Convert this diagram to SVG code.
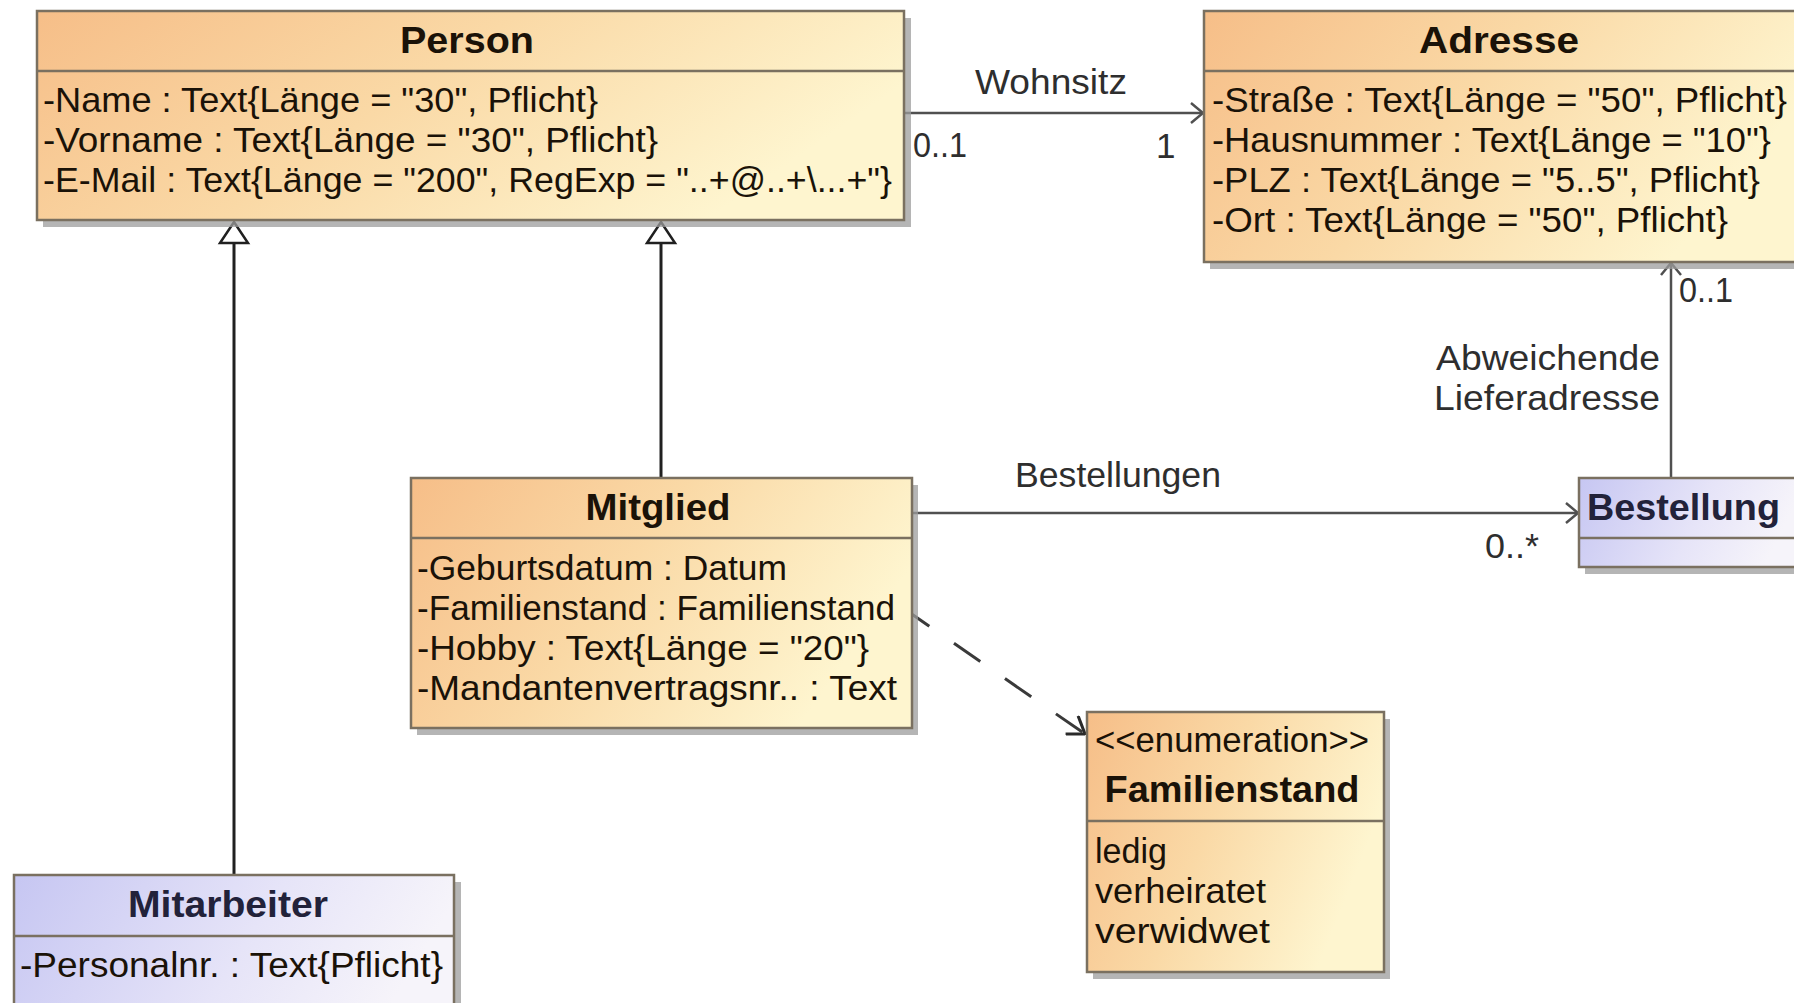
<svg xmlns="http://www.w3.org/2000/svg" width="1794" height="1003" viewBox="0 0 1794 1003">
<defs>
<linearGradient id="orange" x1="0" y1="0" x2="1" y2="0.35">
<stop offset="0" stop-color="#F6BE88"/>
<stop offset="0.5" stop-color="#FAD9A6"/>
<stop offset="1" stop-color="#FEF5CF"/>
</linearGradient>
<linearGradient id="lav" x1="0" y1="0" x2="1" y2="0.2">
<stop offset="0" stop-color="#C6C6F2"/>
<stop offset="0.6" stop-color="#E6E4F8"/>
<stop offset="1" stop-color="#F6F4FA"/>
</linearGradient>
<marker id="open" markerUnits="userSpaceOnUse" viewBox="0 0 14 22" markerWidth="14" markerHeight="22" refX="13" refY="11" orient="auto">
<path d="M1,1 L13,11 L1,21" fill="none" stroke="#505050" stroke-width="2.5"/>
</marker>
<marker id="openDark" markerUnits="userSpaceOnUse" viewBox="0 0 18 24" markerWidth="18" markerHeight="24" refX="17" refY="12" orient="auto">
<path d="M1,1 L17,12 L1,23" fill="none" stroke="#2a2a2a" stroke-width="3"/>
</marker>
</defs>
<style>
.box{stroke:#7A7060;stroke-width:2.5}
.shadow{fill:#9C9C9C;opacity:0.75}
.div{stroke:#7A7060;stroke-width:2.5}
.title{font-family:"Liberation Sans",Arial,sans-serif;font-weight:bold;font-size:36px;fill:#1A1208;text-anchor:middle}
.titleB{font-family:"Liberation Sans",Arial,sans-serif;font-weight:bold;font-size:36px;fill:#22223A}
.attr{font-family:"Liberation Sans",Arial,sans-serif;font-size:35px;fill:#1A1208}
.lbl{font-family:"Liberation Sans",Arial,sans-serif;font-size:35px;fill:#2E2E2E}
.conn{fill:none;stroke:#505050;stroke-width:2.5}
.gen{fill:none;stroke:#202020;stroke-width:3}
</style>
<rect width="1794" height="1003" fill="#FFFFFF"/>

<g id="connectors">
<line class="conn" x1="904" y1="113" x2="1203" y2="113" marker-end="url(#open)"/>
<line class="conn" x1="912" y1="513" x2="1578" y2="513" marker-end="url(#open)"/>
<line class="conn" x1="1671" y1="478" x2="1671" y2="263" marker-end="url(#open)"/>
<line class="gen" x1="234" y1="875" x2="234" y2="243"/>
<path d="M234,222 L248,243 L220,243 Z" fill="#FFFFFF" stroke="#202020" stroke-width="2.5"/>
<line class="gen" x1="661" y1="478" x2="661" y2="243"/>
<path d="M661,222 L675,243 L647,243 Z" fill="#FFFFFF" stroke="#202020" stroke-width="2.5"/>
<line x1="903" y1="608" x2="1085" y2="734" stroke="#3a3a3a" stroke-width="3" stroke-dasharray="32,30" marker-end="url(#openDark)"/>
<text class="lbl" x="975" y="94" textLength="152" lengthAdjust="spacingAndGlyphs">Wohnsitz</text>
<text class="lbl" x="913" y="157" textLength="54" lengthAdjust="spacingAndGlyphs">0..1</text>
<text class="lbl" x="1156" y="158">1</text>
<text class="lbl" x="1015" y="487" textLength="206" lengthAdjust="spacingAndGlyphs">Bestellungen</text>
<text class="lbl" x="1485" y="558" textLength="54" lengthAdjust="spacingAndGlyphs">0..*</text>
<text class="lbl" x="1679" y="302" textLength="54" lengthAdjust="spacingAndGlyphs">0..1</text>
<text class="lbl" x="1436" y="370" textLength="224" lengthAdjust="spacingAndGlyphs">Abweichende</text>
<text class="lbl" x="1434" y="410" textLength="226" lengthAdjust="spacingAndGlyphs">Lieferadresse</text>
</g>

<g id="person">
<rect class="shadow" x="43" y="18" width="868" height="209"/>
<rect class="box" x="37" y="11" width="867" height="209" fill="url(#orange)"/>
<line class="div" x1="37" y1="71" x2="904" y2="71"/>
<text class="title" x="467" y="53" textLength="134" lengthAdjust="spacingAndGlyphs">Person</text>
<text class="attr" x="43" y="112" textLength="555" lengthAdjust="spacingAndGlyphs">-Name : Text{Länge = "30", Pflicht}</text>
<text class="attr" x="43" y="152" textLength="615" lengthAdjust="spacingAndGlyphs">-Vorname : Text{Länge = "30", Pflicht}</text>
<text class="attr" x="43" y="192" textLength="849" lengthAdjust="spacingAndGlyphs">-E-Mail : Text{Länge = "200", RegExp = "..+@..+\...+"}</text>
</g>

<g id="adresse">
<rect class="shadow" x="1210" y="18" width="600" height="251"/>
<rect class="box" x="1204" y="11" width="600" height="251" fill="url(#orange)"/>
<line class="div" x1="1204" y1="71" x2="1800" y2="71"/>
<text class="title" x="1499" y="53" textLength="160" lengthAdjust="spacingAndGlyphs">Adresse</text>
<text class="attr" x="1212" y="112" textLength="575" lengthAdjust="spacingAndGlyphs">-Straße : Text{Länge = "50", Pflicht}</text>
<text class="attr" x="1212" y="152" textLength="559" lengthAdjust="spacingAndGlyphs">-Hausnummer : Text{Länge = "10"}</text>
<text class="attr" x="1212" y="192" textLength="548" lengthAdjust="spacingAndGlyphs">-PLZ : Text{Länge = "5..5", Pflicht}</text>
<text class="attr" x="1212" y="232" textLength="516" lengthAdjust="spacingAndGlyphs">-Ort : Text{Länge = "50", Pflicht}</text>
</g>

<g id="mitglied">
<rect class="shadow" x="417" y="485" width="501" height="250"/>
<rect class="box" x="411" y="478" width="501" height="250" fill="url(#orange)"/>
<line class="div" x1="411" y1="538" x2="912" y2="538"/>
<text class="title" x="658" y="520" textLength="145" lengthAdjust="spacingAndGlyphs">Mitglied</text>
<text class="attr" x="417" y="580" textLength="370" lengthAdjust="spacingAndGlyphs">-Geburtsdatum : Datum</text>
<text class="attr" x="417" y="620" textLength="478" lengthAdjust="spacingAndGlyphs">-Familienstand : Familienstand</text>
<text class="attr" x="417" y="660" textLength="452" lengthAdjust="spacingAndGlyphs">-Hobby : Text{Länge = "20"}</text>
<text class="attr" x="417" y="700" textLength="480" lengthAdjust="spacingAndGlyphs">-Mandantenvertragsnr.. : Text</text>
</g>

<g id="bestellung">
<rect class="shadow" x="1585" y="485" width="220" height="89"/>
<rect class="box" x="1579" y="478" width="220" height="89" fill="url(#lav)"/>
<line class="div" x1="1579" y1="538" x2="1800" y2="538"/>
<text class="titleB" x="1587" y="520" textLength="193" lengthAdjust="spacingAndGlyphs">Bestellung</text>
</g>

<g id="familienstand">
<rect class="shadow" x="1093" y="719" width="297" height="260"/>
<rect class="box" x="1087" y="712" width="297" height="260" fill="url(#orange)"/>
<line class="div" x1="1087" y1="821" x2="1384" y2="821"/>
<text class="attr" x="1095" y="752" textLength="274" lengthAdjust="spacingAndGlyphs">&lt;&lt;enumeration&gt;&gt;</text>
<text class="title" x="1232" y="802" textLength="255" lengthAdjust="spacingAndGlyphs">Familienstand</text>
<text class="attr" x="1095" y="863" textLength="72" lengthAdjust="spacingAndGlyphs">ledig</text>
<text class="attr" x="1095" y="903" textLength="171" lengthAdjust="spacingAndGlyphs">verheiratet</text>
<text class="attr" x="1095" y="943" textLength="175" lengthAdjust="spacingAndGlyphs">verwidwet</text>
</g>

<g id="mitarbeiter">
<rect class="shadow" x="20" y="882" width="441" height="140"/>
<rect class="box" x="14" y="875" width="440" height="140" fill="url(#lav)"/>
<line class="div" x1="14" y1="936" x2="454" y2="936"/>
<text class="titleB" x="228" y="917" text-anchor="middle" textLength="200" lengthAdjust="spacingAndGlyphs">Mitarbeiter</text>
<text class="attr" x="20" y="977" textLength="423" lengthAdjust="spacingAndGlyphs">-Personalnr. : Text{Pflicht}</text>
</g>
</svg>
